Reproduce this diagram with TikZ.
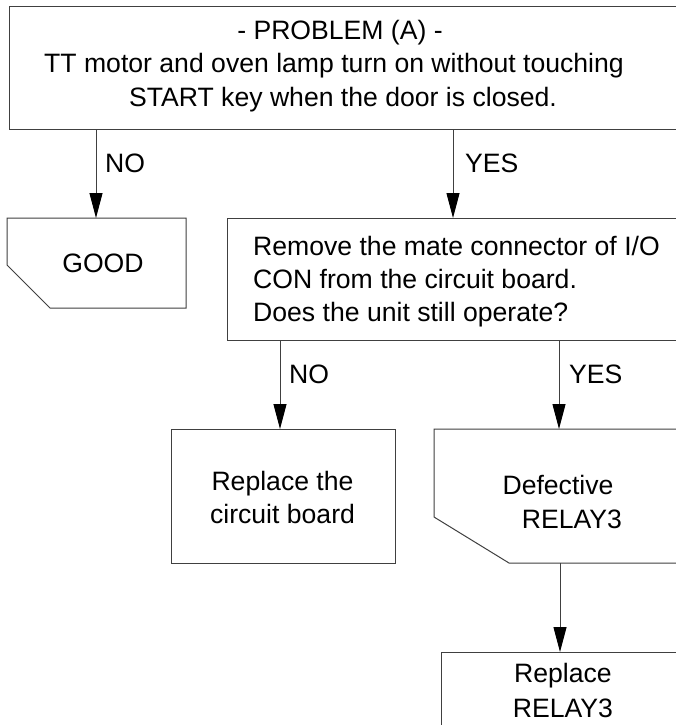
\documentclass[tikz,border=0pt]{standalone}
\usepackage{fontspec}
\setmainfont{Liberation Sans}
\usetikzlibrary{arrows.meta}
\begin{document}
\begin{tikzpicture}[x=1pt,y=-1pt,
 line/.style={draw=black!75, line width=1pt},
 box/.style={line, rectangle, inner sep=0pt, outer sep=0pt},
 frame/.style={rectangle, inner sep=0pt, outer sep=0pt, draw=none},
 arr/.style={draw=black!75, line width=1pt, -{Triangle[length=25pt,width=13pt,color=black,fill=black]}},
 txt/.style={font=\fontsize{26.6}{32}\selectfont, inner sep=0pt, anchor=base, text=black},
 lbl/.style={txt, anchor=base west}]
\useasboundingbox (0,0) rectangle (676,725);
\fill[white] (0,0) rectangle (676,725);
\clip (0,0) rectangle (676,725);
% boxes
\node[box, minimum width=681pt, minimum height=122pt] (top) at (349.5,68) {};
\node[frame, minimum width=179pt, minimum height=90pt] (good) at (96.5,263) {};
\draw[line] (good.north west) -- (good.north east) -- (good.south east)
  -- ([xshift=43pt]good.south west) -- ([yshift=43pt]good.south west) -- cycle;
\node[box, minimum width=463pt, minimum height=122pt] (q) at (458.5,279) {};
\node[box, minimum width=224pt, minimum height=134pt] (rep) at (283,496) {};
\node[frame, minimum width=256pt, minimum height=134pt] (def) at (562,496) {};
\draw[line] (def.north west) -- (def.north east) -- (def.south east)
  -- ([xshift=75pt]def.south west) -- ([yshift=46pt]def.south west) -- cycle;
\node[box, minimum width=249pt, minimum height=90pt] (rr) at (565.5,697) {};
% arrow columns
\coordinate (c1) at (96,0);
\coordinate (c2) at (453,0);
\coordinate (c3) at (280,0);
\coordinate (c4) at (559,0);
\coordinate (c5) at (560,0);
% connectors
\draw[arr] (top.south -| c1) -- (good.north -| c1);
\draw[arr] (top.south -| c2) -- (q.north -| c2);
\draw[arr] (q.south -| c3) -- (rep.north -| c3);
\draw[arr] (q.south -| c4) -- (def.north -| c4);
\draw[arr] (def.south -| c5) -- (rr.north -| c5);
% texts
\node[txt] (t1) at (340,40) {- PROBLEM (A) -};
\node[txt] (t2) at (334,73) {TT motor and oven lamp turn on without touching};
\node[txt] (t3) at (343,106) {START key when the door is closed.};
\node[lbl] (no1) at (105,172) {NO};
\node[lbl] (yes1) at (465,172) {YES};
\node[txt] (tg) at (103,272) {GOOD};
\node[lbl] (q1) at (253,255) {Remove the mate connector of I/O};
\node[lbl] (q2) at (253,288) {CON from the circuit board.};
\node[lbl] (q3) at (253,321) {Does the unit still operate?};
\node[lbl] (no2) at (289,383) {NO};
\node[lbl] (yes2) at (569,383) {YES};
\node[txt] (r1) at (282.5,490) {Replace the};
\node[txt] (r2) at (282.5,523) {circuit board};
\node[txt] (d1) at (558,494) {Defective};
\node[txt] (d2) at (572,528) {RELAY3};
\node[txt] (rr1) at (563,682) {Replace};
\node[txt] (rr2) at (563,717) {RELAY3};
\end{tikzpicture}
\end{document}
